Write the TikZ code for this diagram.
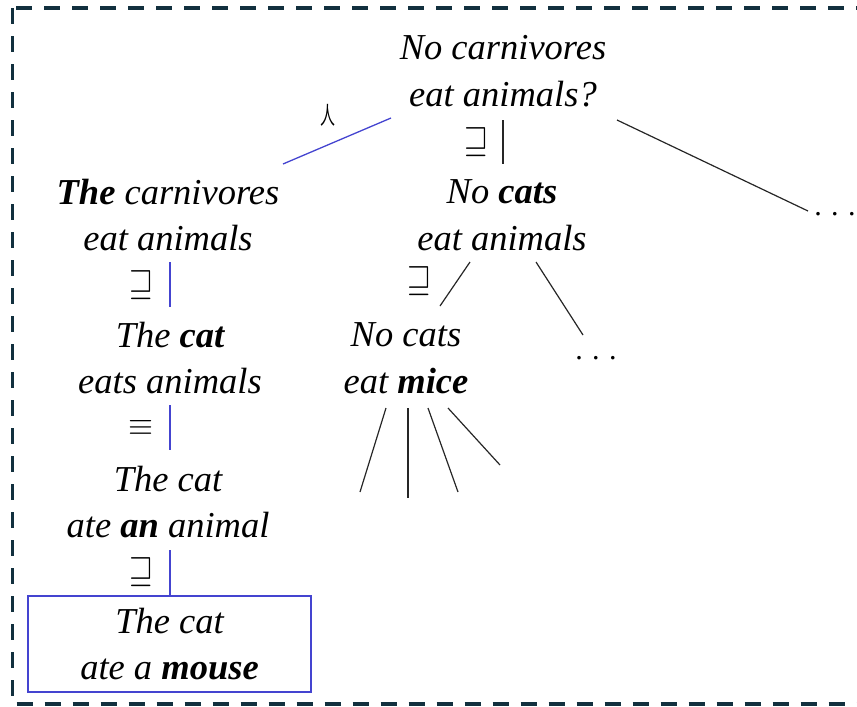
\documentclass[tikz,border=0pt]{standalone}
\usepackage{amssymb}
\usepackage{graphicx}
\usepackage{fontspec}
\setmainfont{Liberation Serif}
\newfontfamily\cjk{Noto Sans CJK SC}
\definecolor{frame}{HTML}{12303E}
\definecolor{myblue}{HTML}{4444D0}
\newcommand{\relsym}[3]{\resizebox*{#2}{#3}{\fontsize{20.74}{22}\selectfont$#1$}}
\begin{document}
\begin{tikzpicture}[x=1pt,y=-1pt,
  txt/.style={font=\fontsize{36.5}{46.5}\selectfont\itshape, align=center, inner sep=0pt},
  rel/.style={inner sep=0pt},
  edge/.style={line width=1.2pt, black!85},
  bedge/.style={line width=1.3pt, myblue},
  dots/.style={font=\fontsize{30}{30}\selectfont, inner sep=0pt}]
\useasboundingbox (0,0) rectangle (857,707);
\draw[frame, line width=3.8pt, dash pattern=on 16pt off 12pt] (12.5,8) rectangle (880,704);

\node[txt] (top) at (503,71) {No carnivores\\eat animals?};
\node[txt] (l1) at (168,215) {\textbf{The} carnivores\\eat animals};
\node[txt] (m1) at (502,215) {No \textbf{cats}\\eat animals};
\node[txt] (l2) at (170,358) {The \textbf{cat}\\eats animals};
\node[txt] (m2) at (406,358) {No cats\\eat \textbf{mice}};
\node[txt] (l3) at (168,502) {The cat\\ate \textbf{an} animal};
\node[txt, draw=myblue, line width=1.2pt, minimum width=283pt, minimum height=96pt] (l4) at (169.5,644) {The cat\\ate a \textbf{mouse}};
\node[dots] (d1) at (835,214) {.\hspace{9.5pt}.\hspace{9.5pt}.};
\node[dots] (d2) at (596,358) {.\hspace{9.5pt}.\hspace{9.5pt}.};

% relation labels
\node[inner sep=0pt] (r0) at (328,115) {\resizebox*{15pt}{22pt}{\fontsize{20}{20}\selectfont\cjk 人}};
\node[rel] (r1) at (476,142) {\relsym{\sqsupseteq}{24pt}{29pt}};
\node[rel] (r2) at (141,285) {\relsym{\sqsupseteq}{24pt}{29pt}};
\node[rel] (r3) at (419,281) {\relsym{\sqsupseteq}{24pt}{29pt}};
\node[rel] (r4) at (141,428) {\relsym{\equiv}{25pt}{15pt}};
\node[rel] (r5) at (141,572) {\relsym{\sqsupseteq}{24pt}{29pt}};

% connectors
\coordinate (a0) at (391,118); \coordinate (a1) at (283,164);
\draw[bedge] (a0) -- (a1);
\coordinate (b0) at (503,120); \coordinate (b1) at (503,164);
\draw[edge] (b0) -- (b1);
\coordinate (c0) at (617,120); \coordinate (c1) at (808,211);
\draw[edge] (c0) -- (c1);
\coordinate (e0) at (170,262); \coordinate (e1) at (170,307);
\draw[bedge] (e0) -- (e1);
\coordinate (f0) at (170,405); \coordinate (f1) at (170,450);
\draw[bedge] (f0) -- (f1);
\coordinate (g0) at (170,550); \coordinate (g1) at (170,596);
\draw[bedge] (g0) -- (g1);
\coordinate (h0) at (470,262); \coordinate (h1) at (440,306);
\draw[edge] (h0) -- (h1);
\coordinate (i0) at (536,262); \coordinate (i1) at (583,335);
\draw[edge] (i0) -- (i1);
\coordinate (j0) at (386,408); \coordinate (j1) at (360,492);
\coordinate (k0) at (408,408); \coordinate (k1) at (408,498);
\coordinate (m0) at (428,408); \coordinate (m1e) at (458,492);
\coordinate (n0) at (448,408); \coordinate (n1) at (500,465);
\draw[edge] (j0) -- (j1);
\draw[edge] (k0) -- (k1);
\draw[edge] (m0) -- (m1e);
\draw[edge] (n0) -- (n1);
\end{tikzpicture}
\end{document}
